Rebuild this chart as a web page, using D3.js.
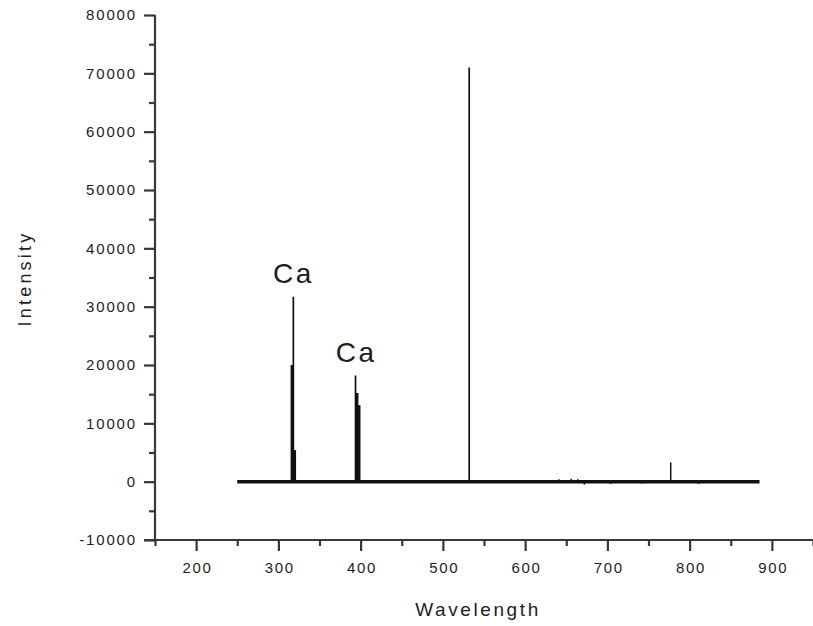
<!DOCTYPE html>
<html>
<head>
<meta charset="utf-8">
<script src="https://cdn.jsdelivr.net/npm/d3@7"></script>
<style>
  html, body { margin: 0; padding: 0; background: #fff; }
  svg text { font-family: "Liberation Sans", Arial, sans-serif; fill: #1e1e1e; }
</style>
</head>
<body>
<svg id="chart" width="813" height="626"></svg>
<script>
// Emission lines: wavelength (nm) and intensity (counts)
const lineWavelengths = [315.9, 316.9, 318.2, 319.4, 320.6,
                         372.5, 393.8, 395.0, 396.3, 397.6, 398.8,
                         466, 532, 612, 641, 656, 664, 672, 680, 704, 742, 777, 811];
const lineIntensities = [20000, 20000, 31700, 5400, 5400,
                         300, 18200, 15200, 15200, 13100, 13100,
                         200, 71000, 300, 400, 500, 400, -500, 300, -400, -300, 3300, -400];
// Baseline extent of the recorded spectrum
const baselineRange = [250, 885];
const baselineLevel = 0;
// Peak annotations
const annotationText = ["Ca", "Ca"];
const annotationWavelength = [318.2, 394.6];
const annotationIntensity = [31700, 18200];
// Axis ticks
const xTicks = [200, 300, 400, 500, 600, 700, 800, 900];
const xMinorTicks = [150, 250, 350, 450, 550, 650, 750, 850, 950];
const yTicks = [-10000, 0, 10000, 20000, 30000, 40000, 50000, 60000, 70000, 80000];
const yMinorTicks = [-5000, 5000, 15000, 25000, 35000, 45000, 55000, 65000, 75000];

const svg = d3.select("#chart");
const plotLeft = 155, plotRight = 813, plotTop = 15, plotBottom = 540;

const x = d3.scaleLinear().domain([150, 950]).range([plotLeft, plotRight]);
const y = d3.scaleLinear().domain([-10000, 80000]).range([plotBottom, plotTop]);

const axisColor = "#383838";

// Spectrum baseline
svg.append("line")
  .attr("x1", x(baselineRange[0])).attr("x2", x(baselineRange[1]))
  .attr("y1", y(baselineLevel)).attr("y2", y(baselineLevel))
  .attr("stroke", "#111").attr("stroke-width", 3.5);

// Emission line sticks
const lines = lineWavelengths.map((w, i) => ({ w, v: lineIntensities[i] }));
svg.append("g").selectAll("line").data(lines).join("line")
  .attr("x1", d => x(d.w)).attr("x2", d => x(d.w))
  .attr("y1", y(baselineLevel)).attr("y2", d => y(d.v))
  .attr("stroke", "#111")
  .attr("stroke-width", d => Math.abs(d.v) > 10000 ? 1.7 : 1.5);

// Minor ticks
const yMinorAxis = d3.axisLeft(y).tickValues(yMinorTicks).tickSize(6).tickFormat("");
const xMinorAxis = d3.axisBottom(x).tickValues(xMinorTicks).tickSize(6).tickFormat("");
svg.append("g").attr("transform", `translate(${plotLeft},0)`).call(yMinorAxis);
svg.append("g").attr("transform", `translate(0,${plotBottom})`).call(xMinorAxis);

// Major axes (plain hyphen for negative values)
const yAxis = d3.axisLeft(y).tickValues(yTicks).tickSize(11).tickPadding(9)
  .tickFormat(d => String(d));
const xAxis = d3.axisBottom(x).tickValues(xTicks).tickSize(11).tickPadding(11)
  .tickFormat(d => String(d));

const gy = svg.append("g").attr("transform", `translate(${plotLeft},0)`).call(yAxis);
const gx = svg.append("g").attr("transform", `translate(0,${plotBottom})`).call(xAxis);

svg.selectAll(".domain").remove();
svg.selectAll(".tick line").attr("stroke", axisColor).attr("stroke-width", 2.2);

gy.selectAll("text").attr("font-size", 15).attr("letter-spacing", "1.8px")
  .attr("dx", "1.8px").style("fill", "#1e1e1e");
gx.selectAll("text").attr("font-size", 15).attr("letter-spacing", "1.6px")
  .attr("dx", "0.8px").style("fill", "#1e1e1e");

// Axis lines
svg.append("line").attr("x1", plotLeft).attr("x2", plotLeft).attr("y1", plotTop).attr("y2", plotBottom + 1)
  .attr("stroke", axisColor).attr("stroke-width", 2.2);
svg.append("line").attr("x1", plotLeft - 11).attr("x2", plotRight).attr("y1", plotBottom).attr("y2", plotBottom)
  .attr("stroke", axisColor).attr("stroke-width", 2.2);

// Axis titles
svg.append("text")
  .attr("x", (plotLeft + plotRight) / 2 - 6).attr("y", 616)
  .attr("text-anchor", "middle").attr("font-size", 19).attr("letter-spacing", "2.6px")
  .text("Wavelength");
svg.append("text")
  .attr("transform", `translate(31,${(plotTop + plotBottom) / 2 + 1}) rotate(-90)`)
  .attr("text-anchor", "middle").attr("font-size", 18).attr("letter-spacing", "3.2px")
  .text("Intensity");

// Peak labels
svg.append("g").selectAll("text").data(annotationText).join("text")
  .attr("x", (d, i) => x(annotationWavelength[i]))
  .attr("y", (d, i) => y(annotationIntensity[i]) - 14)
  .attr("text-anchor", "middle").attr("font-size", 28).attr("letter-spacing", "2.5px")
  .text(d => d);
</script>
</body>
</html>
